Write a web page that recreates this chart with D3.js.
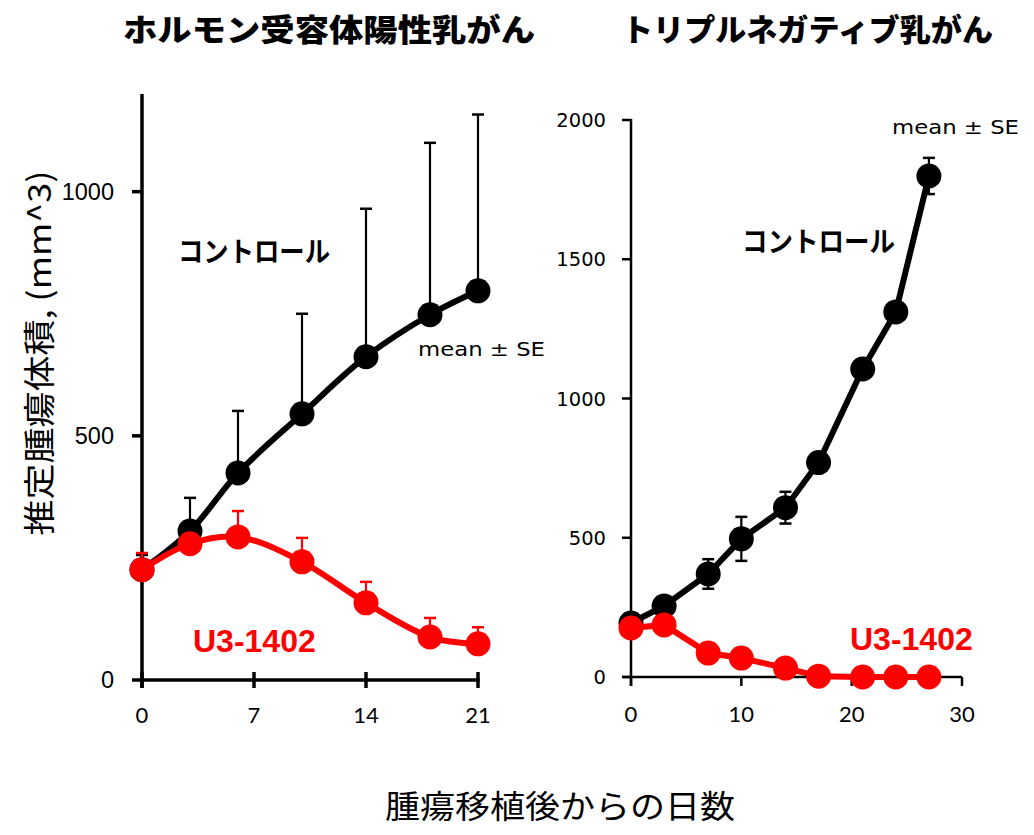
<!DOCTYPE html>
<html>
<head>
<meta charset="utf-8">
<script src="https://cdn.jsdelivr.net/npm/d3@7"></script>
<style>
body { margin: 0; background: #fff; }
</style>
</head>
<body>
<script>
// hormone receptor positive panel (left)
const leftDays = [0, 3, 6, 10, 14, 18, 21];
const leftCtrl = [226, 305, 424, 545, 662, 748, 797];
const leftCtrlSE = [30, 68, 127, 205, 303, 352, 361];
const leftU3 = [226, 279, 293, 242, 158, 88, 74];
const leftU3SE = [34, 20, 53, 49, 43, 39, 34];
const leftXTicks = [0, 7, 14, 21];
const leftYTicks = [0, 500, 1000];

// triple negative panel (right)
const rightDays = [0, 3, 7, 10, 14, 17, 21, 24, 27];
const rightCtrl = [194, 255, 370, 496, 608, 770, 1106, 1311, 1799];
const rightCtrlSE = [15, 20, 53, 79, 57, 20, 25, 25, 65];
const rightU3 = [176, 187, 86, 68, 32, 3, 0, 0, 0];
const rightU3SE = [10, 10, 8, 8, 5, 2, 0, 0, 0];
const rightXTicks = [0, 10, 20, 30];
const rightYTicks = [0, 500, 1000, 1500, 2000];

const titles = ["ホルモン受容体陽性乳がん", "トリプルネガティブ乳がん"];
const xTitle = "腫瘍移植後からの日数";
const yTitle = "推定腫瘍体積, (mm^3)";

const W = 1034, H = 835;
const svg = d3.select("body").append("svg")
    .attr("width", W).attr("height", H)
    .attr("xmlns", "http://www.w3.org/2000/svg");

const jp = "'Noto Sans CJK JP', sans-serif";

// ---- left panel ----
let xL = d3.scaleLinear().domain([0, 21]).range([142, 478]);
let yL = d3.scaleLinear().domain([0, 1200]).range([680, 94]);

let gL = svg.append("g");
gL.append("line").attr("x1", xL(0)).attr("x2", xL(0))
    .attr("y1", yL(0) + 8).attr("y2", yL(1200))
    .attr("stroke", "#000").attr("stroke-width", 3.5);
gL.append("line").attr("x1", xL(0)).attr("x2", xL(21) + 1.5)
    .attr("y1", yL(0)).attr("y2", yL(0))
    .attr("stroke", "#000").attr("stroke-width", 3.5);
gL.selectAll(".xt").data(leftXTicks).enter().append("line")
    .attr("x1", d => xL(d)).attr("x2", d => xL(d))
    .attr("y1", yL(0) - 8).attr("y2", yL(0) + 8)
    .attr("stroke", "#000").attr("stroke-width", 3.5);
gL.selectAll(".yt").data(leftYTicks).enter().append("line")
    .attr("x1", xL(0) - 10).attr("x2", xL(0))
    .attr("y1", d => yL(d)).attr("y2", d => yL(d))
    .attr("stroke", "#000").attr("stroke-width", 3.5);
gL.selectAll(".xl").data(leftXTicks).enter().append("text")
    .attr("x", d => xL(d)).attr("y", 723)
    .attr("text-anchor", "middle")
    .style("font-family", "Lato, sans-serif").style("font-size", "22px")
    .text(d => d);
gL.selectAll(".yl").data(leftYTicks).enter().append("text")
    .attr("x", 114).attr("y", d => yL(d) + 8)
    .attr("text-anchor", "end")
    .style("font-family", "'Liberation Sans', Arial, sans-serif").style("font-size", "23.5px")
    .text(d => d);

function series(g, x, y, days, vals, se, color, curve, twoSided) {
    // error bars
    days.forEach((d, i) => {
        if (se[i] <= 0) return;
        let lo = twoSided ? vals[i] - se[i] : vals[i];
        g.append("line").attr("x1", x(d)).attr("x2", x(d))
            .attr("y1", y(lo)).attr("y2", y(vals[i] + se[i]))
            .attr("stroke", color).attr("stroke-width", 2.2);
        g.append("line").attr("x1", x(d) - 6).attr("x2", x(d) + 6)
            .attr("y1", y(vals[i] + se[i])).attr("y2", y(vals[i] + se[i]))
            .attr("stroke", color).attr("stroke-width", 2.5);
        if (twoSided) {
            g.append("line").attr("x1", x(d) - 6).attr("x2", x(d) + 6)
                .attr("y1", y(lo)).attr("y2", y(lo))
                .attr("stroke", color).attr("stroke-width", 2.5);
        }
    });
    let line = d3.line().x(d => x(d[0])).y(d => y(d[1])).curve(curve);
    g.append("path").datum(days.map((d, i) => [d, vals[i]]))
        .attr("d", line).attr("fill", "none")
        .attr("stroke", color).attr("stroke-width", 6);
    g.selectAll(null).data(days).enter().append("circle")
        .attr("cx", d => x(d)).attr("cy", (d, i) => y(vals[i]))
        .attr("r", 12.5).attr("fill", color);
}

series(gL, xL, yL, leftDays, leftCtrl, leftCtrlSE, "#000", d3.curveCatmullRom, false);
series(gL, xL, yL, leftDays, leftU3, leftU3SE, "#ff0000", d3.curveCatmullRom, false);

gL.append("text").attr("x", 178).attr("y", 262)
    .attr("textLength", 152).attr("lengthAdjust", "spacingAndGlyphs")
    .style("font-family", jp).style("font-weight", "bold").style("font-size", "28px")
    .text("コントロール");
gL.append("text").attr("x", 418).attr("y", 356)
    .attr("textLength", 127).attr("lengthAdjust", "spacingAndGlyphs")
    .style("font-family", "'DejaVu Sans', sans-serif").style("font-size", "20px")
    .text("mean ± SE");
gL.append("text").attr("x", 193).attr("y", 652)
    .attr("fill", "#ff0000")
    .style("font-family", "'Liberation Sans', Arial, sans-serif").style("font-weight", "bold").style("font-size", "32px")
    .text("U3-1402");

// ---- right panel ----
let xR = d3.scaleLinear().domain([0, 30]).range([631, 962]);
let yR = d3.scaleLinear().domain([0, 2000]).range([677, 120]);

let gR = svg.append("g");
gR.append("line").attr("x1", xR(0)).attr("x2", xR(0))
    .attr("y1", yR(0) + 9).attr("y2", yR(2000) - 1)
    .attr("stroke", "#000").attr("stroke-width", 2.5);
gR.append("line").attr("x1", xR(0) - 9).attr("x2", xR(30))
    .attr("y1", yR(0)).attr("y2", yR(0))
    .attr("stroke", "#000").attr("stroke-width", 2.5);
gR.selectAll(".xt").data(rightXTicks).enter().append("line")
    .attr("x1", d => xR(d)).attr("x2", d => xR(d))
    .attr("y1", yR(0)).attr("y2", yR(0) + 9)
    .attr("stroke", "#000").attr("stroke-width", 2.5);
gR.selectAll(".yt").data(rightYTicks).enter().append("line")
    .attr("x1", xR(0) - 9).attr("x2", xR(0))
    .attr("y1", d => yR(d)).attr("y2", d => yR(d))
    .attr("stroke", "#000").attr("stroke-width", 2.5);
gR.selectAll(".xl").data(rightXTicks).enter().append("text")
    .attr("x", d => xR(d)).attr("y", 722)
    .attr("text-anchor", "middle")
    .style("font-family", "Lato, sans-serif").style("font-size", "22px")
    .text(d => d);
gR.selectAll(".yl").data(rightYTicks).enter().append("text")
    .attr("x", 606).attr("y", d => yR(d) + 7)
    .attr("text-anchor", "end")
    .style("font-family", "'DejaVu Sans', sans-serif").style("font-size", "19.5px")
    .text(d => d);

series(gR, xR, yR, rightDays, rightCtrl, rightCtrlSE, "#000", d3.curveLinear, true);
series(gR, xR, yR, rightDays, rightU3, rightU3SE, "#ff0000", d3.curveLinear, true);

gR.append("text").attr("x", 742).attr("y", 252)
    .attr("textLength", 153).attr("lengthAdjust", "spacingAndGlyphs")
    .style("font-family", jp).style("font-weight", "bold").style("font-size", "28px")
    .text("コントロール");
gR.append("text").attr("x", 892).attr("y", 134)
    .attr("textLength", 127).attr("lengthAdjust", "spacingAndGlyphs")
    .style("font-family", "'DejaVu Sans', sans-serif").style("font-size", "20px")
    .text("mean ± SE");
gR.append("text").attr("x", 850).attr("y", 650)
    .attr("fill", "#ff0000")
    .style("font-family", "'Liberation Sans', Arial, sans-serif").style("font-weight", "bold").style("font-size", "32px")
    .text("U3-1402");

// ---- titles ----
svg.append("text").attr("x", 123).attr("y", 41)
    .attr("textLength", 412).attr("lengthAdjust", "spacingAndGlyphs")
    .style("font-family", jp).style("font-weight", "900").style("font-size", "31px")
    .text(titles[0]);
svg.append("text").attr("x", 622).attr("y", 41)
    .attr("textLength", 371).attr("lengthAdjust", "spacingAndGlyphs")
    .style("font-family", jp).style("font-weight", "900").style("font-size", "31px")
    .text(titles[1]);

svg.append("text").attr("x", 560).attr("y", 818)
    .attr("text-anchor", "middle")
    .attr("textLength", 350).attr("lengthAdjust", "spacingAndGlyphs")
    .style("font-family", jp).style("font-size", "32px")
    .text(xTitle);
svg.append("text")
    .attr("transform", "translate(51,353) rotate(-90)")
    .attr("text-anchor", "middle")
    .attr("textLength", 365).attr("lengthAdjust", "spacingAndGlyphs")
    .style("font-family", jp).style("font-size", "32px")
    .text(yTitle);
</script>
</body>
</html>
